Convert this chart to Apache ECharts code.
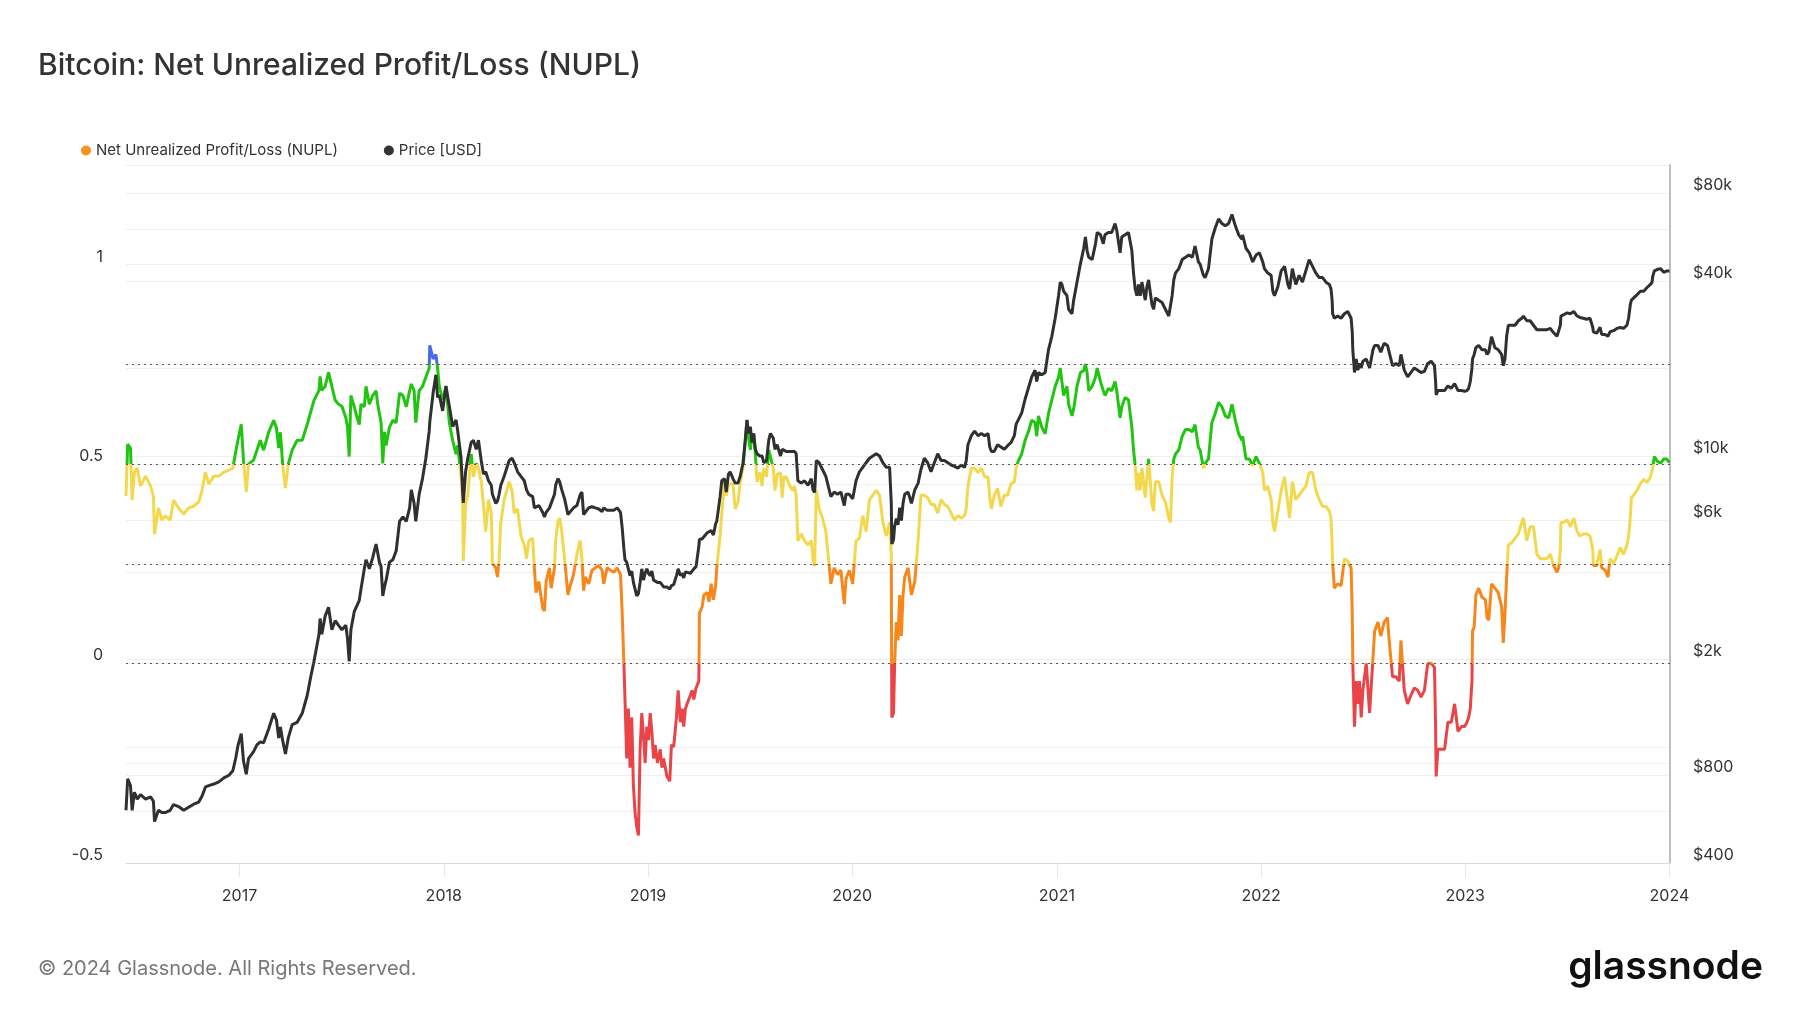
<!DOCTYPE html>
<html>
<head>
<meta charset="utf-8">
<script src="https://cdn.jsdelivr.net/npm/echarts@6/dist/echarts.min.js"></script>
<style>
html,body{margin:0;padding:0;background:#fff;}
#chart{width:1800px;height:1013px;}
</style>
</head>
<body>
<div id="chart"></div>
<script>
// ---------------- data ----------------
const dates = [
'2016-06-12','2016-06-15','2016-06-20','2016-06-23','2016-06-27','2016-07-02','2016-07-08','2016-07-17','2016-07-26','2016-07-31',
'2016-08-02','2016-08-09','2016-08-15','2016-08-21','2016-08-30','2016-09-05','2016-09-14','2016-09-23','2016-10-02','2016-10-11',
'2016-10-20','2016-10-26','2016-11-01','2016-11-07','2016-11-16','2016-11-25','2016-12-04','2016-12-13','2016-12-20','2016-12-25',
'2016-12-29','2017-01-04','2017-01-08','2017-01-13','2017-01-17','2017-01-26','2017-02-01','2017-02-07','2017-02-13','2017-02-22',
'2017-03-03','2017-03-08','2017-03-12','2017-03-15','2017-03-19','2017-03-24','2017-03-29','2017-04-05','2017-04-14','2017-04-23',
'2017-05-02','2017-05-08','2017-05-14','2017-05-23','2017-05-25','2017-05-28','2017-06-03','2017-06-09','2017-06-15','2017-06-21',
'2017-06-27','2017-07-03',
'2017-07-10','2017-07-13','2017-07-16','2017-07-19','2017-07-25','2017-07-28','2017-08-03','2017-08-06','2017-08-12','2017-08-15',
'2017-08-21','2017-08-27','2017-09-02','2017-09-05','2017-09-08','2017-09-11','2017-09-14','2017-09-17','2017-09-20','2017-09-26',
'2017-10-02','2017-10-08','2017-10-14','2017-10-20','2017-10-26','2017-11-01','2017-11-04','2017-11-09','2017-11-12','2017-11-18',
'2017-11-24','2017-11-30','2017-12-06','2017-12-07','2017-12-13','2017-12-18','2017-12-21','2017-12-24','2017-12-30','2018-01-05',
'2018-01-11','2018-01-17','2018-01-23','2018-01-26','2018-02-01','2018-02-04','2018-02-05','2018-02-09','2018-02-13','2018-02-19',
'2018-02-23','2018-02-28','2018-03-04','2018-03-09','2018-03-13','2018-03-17','2018-03-22','2018-03-27','2018-03-29','2018-04-04',
'2018-04-07','2018-04-10','2018-04-13','2018-04-19','2018-04-28','2018-05-03','2018-05-07','2018-05-13','2018-05-19','2018-05-25',
'2018-05-29','2018-06-02','2018-06-09','2018-06-12','2018-06-15','2018-06-20','2018-06-27','2018-06-30','2018-07-03','2018-07-09',
'2018-07-12','2018-07-18','2018-07-20','2018-07-24','2018-07-27','2018-07-31','2018-08-05','2018-08-11','2018-08-14',
'2018-08-15','2018-08-21','2018-08-27','2018-09-02','2018-09-05','2018-09-08','2018-09-11','2018-09-17','2018-09-23','2018-09-29',
'2018-10-05','2018-10-11','2018-10-14','2018-10-20','2018-10-26','2018-11-01','2018-11-07','2018-11-13','2018-11-16','2018-11-19',
'2018-11-21','2018-11-24','2018-11-27','2018-11-30','2018-12-03','2018-12-06','2018-12-09','2018-12-12','2018-12-15','2018-12-18',
'2018-12-21','2018-12-24','2018-12-27','2018-12-30','2019-01-02','2019-01-05','2019-01-08','2019-01-11','2019-01-14','2019-01-18',
'2019-01-23','2019-01-26','2019-01-29','2019-02-04','2019-02-09','2019-02-12','2019-02-16','2019-02-21','2019-02-24','2019-02-28',
'2019-03-03','2019-03-06','2019-03-09','2019-03-12','2019-03-18','2019-03-21','2019-03-24','2019-03-28','2019-04-02','2019-04-03',
'2019-04-08','2019-04-11','2019-04-17','2019-04-20','2019-04-24','2019-04-28','2019-05-02','2019-05-04','2019-05-10','2019-05-13',
'2019-05-18','2019-05-21','2019-05-25','2019-05-28','2019-06-02','2019-06-06','2019-06-11','2019-06-15','2019-06-20','2019-06-24',
'2019-06-27','2019-06-30','2019-07-03','2019-07-06','2019-07-09','2019-07-12','2019-07-15','2019-07-20','2019-07-24','2019-07-27',
'2019-08-01','2019-08-05','2019-08-08','2019-08-13','2019-08-16','2019-08-20','2019-08-26','2019-08-29','2019-09-01','2019-09-05',
'2019-09-10','2019-09-16',
'2019-09-20','2019-09-23','2019-09-26','2019-10-02','2019-10-08','2019-10-14','2019-10-20','2019-10-23','2019-10-26','2019-10-29',
'2019-11-03','2019-11-09','2019-11-15','2019-11-21','2019-11-24','2019-11-30','2019-12-06','2019-12-12','2019-12-18','2019-12-21',
'2019-12-27','2020-01-02','2020-01-08','2020-01-14','2020-01-20','2020-01-26','2020-02-01','2020-02-07','2020-02-13','2020-02-19',
'2020-02-25','2020-03-02','2020-03-08','2020-03-11','2020-03-12','2020-03-15','2020-03-17','2020-03-20','2020-03-23','2020-03-26',
'2020-03-29','2020-04-01','2020-04-04','2020-04-10','2020-04-16','2020-04-22','2020-04-28','2020-05-03','2020-05-09','2020-05-15',
'2020-05-21','2020-05-27','2020-06-02','2020-06-08','2020-06-14','2020-06-20','2020-06-26','2020-07-02','2020-07-08','2020-07-14',
'2020-07-20','2020-07-23','2020-07-26','2020-08-01','2020-08-07','2020-08-13','2020-08-19','2020-08-25','2020-08-31','2020-09-03',
'2020-09-06','2020-09-11','2020-09-17','2020-09-23','2020-09-29','2020-10-05','2020-10-11','2020-10-17','2020-10-20',
'2020-10-24','2020-10-30','2020-11-05','2020-11-11','2020-11-17','2020-11-23','2020-11-26','2020-11-29','2020-12-05','2020-12-11',
'2020-12-17','2020-12-23','2020-12-29','2021-01-04','2021-01-07','2021-01-10','2021-01-13','2021-01-19','2021-01-22','2021-01-28',
'2021-01-31','2021-02-06','2021-02-12','2021-02-18','2021-02-21','2021-02-24','2021-02-27','2021-03-05','2021-03-11','2021-03-14',
'2021-03-20','2021-03-25','2021-03-28','2021-04-03','2021-04-09','2021-04-15','2021-04-18','2021-04-21','2021-04-24','2021-04-27',
'2021-05-03','2021-05-09','2021-05-15','2021-05-18','2021-05-21','2021-05-24','2021-05-27','2021-05-30','2021-06-02','2021-06-08',
'2021-06-11','2021-06-14','2021-06-20','2021-06-23','2021-06-26','2021-07-02','2021-07-08','2021-07-14','2021-07-20','2021-07-23',
'2021-07-26','2021-07-29','2021-08-01','2021-08-07','2021-08-13','2021-08-19','2021-08-25','2021-08-31','2021-09-05','2021-09-11',
'2021-09-14','2021-09-20','2021-09-23','2021-09-29','2021-10-05','2021-10-11','2021-10-17','2021-10-23','2021-10-29','2021-11-04',
'2021-11-10','2021-11-16','2021-11-22','2021-11-28',
'2021-11-29','2021-12-05','2021-12-11','2021-12-17','2021-12-23','2021-12-29','2022-01-04','2022-01-07','2022-01-13','2022-01-19',
'2022-01-22','2022-01-25','2022-01-31','2022-02-06','2022-02-12','2022-02-18','2022-02-21','2022-02-26','2022-03-04','2022-03-10',
'2022-03-16','2022-03-22','2022-03-28','2022-04-03','2022-04-09','2022-04-15','2022-04-21','2022-04-27','2022-05-03','2022-05-06',
'2022-05-08','2022-05-09','2022-05-12','2022-05-18','2022-05-24','2022-05-30','2022-06-05','2022-06-11','2022-06-13','2022-06-14',
'2022-06-17','2022-06-20','2022-06-23','2022-06-26','2022-06-29','2022-07-02','2022-07-08','2022-07-14','2022-07-20','2022-07-23',
'2022-07-29','2022-08-03','2022-08-09','2022-08-15','2022-08-18','2022-08-24','2022-08-30','2022-09-05','2022-09-08','2022-09-14',
'2022-09-20','2022-09-26','2022-10-02','2022-10-08','2022-10-14','2022-10-20','2022-10-26','2022-11-01','2022-11-07','2022-11-09',
'2022-11-10','2022-11-13','2022-11-19','2022-11-25','2022-12-01','2022-12-07','2022-12-13','2022-12-19','2022-12-25','2022-12-31',
'2023-01-04','2023-01-07','2023-01-10','2023-01-13','2023-01-14','2023-01-17','2023-01-20','2023-01-25','2023-01-31','2023-02-06',
'2023-02-09','2023-02-12','2023-02-17','2023-02-23','2023-03-01','2023-03-07','2023-03-10','2023-03-13','2023-03-16','2023-03-19',
'2023-03-25','2023-03-31','2023-04-06','2023-04-12','2023-04-15','2023-04-21','2023-04-27','2023-05-03','2023-05-09','2023-05-15',
'2023-05-21','2023-05-27','2023-06-02','2023-06-08','2023-06-14','2023-06-17','2023-06-20','2023-06-21','2023-06-26','2023-07-02',
'2023-07-08','2023-07-14','2023-07-20','2023-07-25','2023-07-31','2023-08-06','2023-08-12','2023-08-15','2023-08-17','2023-08-18',
'2023-08-24','2023-08-30','2023-09-02','2023-09-08','2023-09-13','2023-09-17','2023-09-23','2023-09-29','2023-10-05','2023-10-11',
'2023-10-17','2023-10-20','2023-10-23','2023-10-25','2023-10-29','2023-11-04','2023-11-10','2023-11-16','2023-11-22','2023-11-28',
'2023-12-01','2023-12-02','2023-12-05','2023-12-10','2023-12-16','2023-12-22','2023-12-27','2024-01-01'
];

const nuplValues = [
0.42,0.55,0.54,0.41,0.48,0.49,0.445,0.47,0.445,0.42,
0.325,0.39,0.36,0.37,0.36,0.41,0.39,0.375,0.39,0.395,
0.405,0.435,0.48,0.45,0.47,0.47,0.48,0.485,0.49,0.53,
0.56,0.60,0.51,0.43,0.50,0.51,0.535,0.56,0.535,0.58,
0.61,0.59,0.54,0.58,0.50,0.44,0.50,0.535,0.56,0.56,
0.60,0.63,0.66,0.685,0.72,0.685,0.695,0.73,0.695,0.66,
0.65,0.645,
0.616,0.593,0.519,0.672,0.644,0.627,0.599,0.650,0.644,0.695,
0.650,0.672,0.684,0.650,0.627,0.604,0.502,0.581,0.547,0.593,
0.610,0.604,0.678,0.672,0.644,0.684,0.701,0.684,0.604,0.684,
0.695,0.718,0.741,0.798,0.764,0.775,0.741,0.695,0.661,0.695,
0.604,0.559,0.525,0.547,0.468,0.399,0.257,0.399,0.422,0.525,
0.468,0.502,0.490,0.456,0.399,0.331,0.411,0.377,0.251,0.240,
0.217,0.263,0.354,0.411,0.456,0.434,0.377,0.388,0.320,0.297,
0.263,0.308,0.314,0.240,0.178,0.206,0.138,0.132,0.206,0.240,
0.189,0.240,0.308,0.354,0.365,0.331,0.263,0.172,0.189,
0.195,0.223,0.274,0.308,0.263,0.183,0.217,0.200,0.234,0.240,
0.246,0.234,0.200,0.240,0.234,0.229,0.240,0.223,0.126,0.001,
-0.090,-0.238,-0.113,-0.261,-0.135,-0.306,-0.374,-0.409,-0.431,-0.215,
-0.124,-0.181,-0.249,-0.158,-0.192,-0.124,-0.170,-0.238,-0.204,-0.249,
-0.215,-0.261,-0.238,-0.283,-0.295,-0.204,-0.209,-0.135,-0.067,-0.147,
-0.113,-0.158,-0.113,-0.101,-0.079,-0.067,-0.090,-0.061,-0.044,0.126,
0.143,0.172,0.178,0.155,0.200,0.160,0.195,0.240,0.320,0.377,
0.455,0.420,0.450,0.445,0.451,0.388,0.405,0.456,0.490,0.559,
0.610,0.564,0.536,0.570,0.576,0.525,0.456,0.479,0.445,0.490,
0.468,0.536,0.519,0.490,0.434,0.474,0.479,0.416,0.468,0.468,
0.451,0.434,
0.445,0.422,0.308,0.325,0.308,0.297,0.308,0.263,0.246,0.434,
0.388,0.365,0.331,0.246,0.200,0.240,0.223,0.234,0.149,0.212,
0.234,0.200,0.308,0.314,0.371,0.331,0.411,0.422,0.434,0.422,
0.354,0.320,0.354,0.274,-0.135,-0.124,0.001,0.104,0.058,0.172,
0.069,0.172,0.217,0.240,0.172,0.206,0.308,0.422,0.422,0.416,
0.399,0.399,0.377,0.411,0.399,0.394,0.377,0.360,0.371,0.365,
0.371,0.388,0.445,0.490,0.490,0.479,0.490,0.468,0.468,0.416,
0.388,0.422,0.439,0.394,0.422,0.422,0.451,0.456,0.490,
0.508,0.525,0.559,0.581,0.610,0.604,0.570,0.621,0.593,0.576,
0.627,0.661,0.695,0.718,0.741,0.707,0.672,0.695,0.650,0.621,
0.638,0.695,0.729,0.735,0.751,0.729,0.684,0.695,0.718,0.741,
0.707,0.684,0.672,0.690,0.684,0.707,0.684,0.650,0.616,0.644,
0.667,0.661,0.593,0.536,0.496,0.434,0.479,0.434,0.490,0.416,
0.468,0.513,0.399,0.382,0.456,0.456,0.422,0.405,0.365,0.354,
0.468,0.513,0.525,0.536,0.570,0.587,0.587,0.581,0.599,0.542,
0.536,0.490,0.502,0.513,0.604,0.627,0.655,0.644,0.621,0.616,
0.650,0.610,0.576,0.559,
0.570,0.513,0.513,0.496,0.519,0.502,0.479,0.434,0.445,0.411,
0.354,0.331,0.382,0.434,0.468,0.399,0.365,0.456,0.411,0.422,
0.434,0.445,0.479,0.479,0.434,0.411,0.394,0.394,0.382,0.365,
0.297,0.251,0.189,0.200,0.195,0.263,0.257,0.240,0.126,0.001,
-0.158,-0.044,-0.101,-0.044,-0.135,-0.067,0.001,-0.124,0.013,0.081,
0.104,0.069,0.104,0.115,0.058,-0.033,-0.033,-0.044,0.058,-0.067,
-0.101,-0.079,-0.061,-0.067,-0.084,-0.067,0.001,0.001,-0.010,-0.158,
-0.283,-0.215,-0.215,-0.215,-0.147,-0.147,-0.101,-0.170,-0.158,-0.158,
-0.147,-0.135,-0.113,-0.044,0.081,0.092,0.172,0.189,0.166,0.160,
0.115,0.109,0.200,0.189,0.178,0.143,0.052,0.126,0.217,0.297,
0.303,0.314,0.325,0.354,0.365,0.308,0.343,0.343,0.274,0.263,
0.263,0.263,0.274,0.246,0.229,0.240,0.286,0.354,0.354,0.360,
0.343,0.365,0.331,0.320,0.325,0.325,0.320,0.320,0.286,0.246,
0.246,0.286,0.240,0.234,0.217,0.263,0.251,0.269,0.291,0.274,
0.297,0.320,0.365,0.416,0.422,0.434,0.451,0.462,0.454,0.468,
0.468,0.490,0.519,0.508,0.502,0.513,0.513,0.504
];

const priceValues = [
607,779,738,607,700,663,687,663,675,652,
555,607,596,596,607,635,625,607,622,637,
648,680,730,738,747,760,784,801,830,914,
1010,1113,897,807,914,965,1018,1043,1036,1154,
1307,1239,1074,1174,1055,948,1074,1195,1217,1307,
1508,1735,1971,2442,2767,2442,2820,3024,2530,2718,
2622,2530,
2622,2356,1971,2530,2920,2920,3195,3490,4099,4402,
4099,4481,4988,4644,4322,4172,3308,3553,3748,4322,
4402,4728,5964,6181,5964,6639,7657,6880,5964,7389,
8368,9830,12181,13080,16495,19030,15921,16210,14303,17413,
14818,12624,13316,12181,9830,7389,6900,8832,9830,11136,
11339,10554,11339,9655,8676,8832,8226,7935,7389,6880,
7000,7389,7935,8521,9655,9830,9488,8832,8521,8226,
7657,7389,7256,6639,6639,6759,6405,6181,6405,6639,
6639,7389,7935,8368,8178,7657,7131,6291,6405,
6405,6639,6759,7389,7523,6291,6405,6639,6700,6639,
6580,6450,6639,6520,6520,6520,6639,6405,5652,4815,
4402,4322,4099,3885,4025,3682,3490,3308,3369,3682,
4099,3748,3956,4099,3956,3885,4025,3748,3720,3682,
3682,3617,3553,3553,3490,3590,3617,3885,4099,3885,
3956,3816,4000,4025,3956,4025,4099,4172,4900,5169,
5200,5264,5454,5510,5552,5357,5858,5964,7256,8226,
8368,7523,8676,8832,8368,8079,8079,8521,9488,11339,
13316,11963,12624,11136,11963,10554,10188,10008,10008,9488,
9655,11339,11963,11545,10554,10940,10008,10554,10554,10375,
10375,10375,
10375,10188,8226,8079,8226,7935,8368,7657,7500,9655,
9488,8993,8521,7657,7256,7523,7389,7523,6759,7389,
7389,7131,8226,8832,9153,9488,9830,10008,10188,10008,
9488,9153,9153,6880,4988,5169,5752,6100,5800,6650,
6000,6880,7389,7523,6880,7657,8079,8993,9830,9488,
8832,9488,10188,9655,9655,9488,9320,9220,9090,9320,
9153,9655,10940,11752,12181,11752,11963,11752,11963,10748,
10375,10375,10940,10748,10554,10860,11136,11752,12845,
13316,14052,15640,17101,18700,19730,18040,19376,19040,19376,
23170,25800,29750,35560,39590,38890,36860,35560,31950,30830,
34330,39590,45670,51760,56570,50830,48170,47310,53600,58610,
57560,53600,57560,58610,58610,62960,59680,54580,49930,56570,
57560,58610,50830,42530,37530,35560,38890,35560,39590,34330,
38190,40280,33110,31950,34930,34330,33710,31950,30280,30280,
35560,40280,42530,44050,47310,48170,49050,48170,52680,46470,
45670,41770,41030,44000,55560,60760,65250,62960,61810,62960,
67610,61810,57560,55560,
57560,51760,49930,46470,49050,49930,46470,44050,42530,41770,
36860,35560,38190,43270,44850,38890,37530,44050,38890,41770,
39590,43270,47310,44850,42530,41030,41030,39590,38890,37530,
34330,30830,29750,30280,29750,30830,31380,29750,26730,23170,
19376,21570,19730,20810,20080,21190,21570,20080,23170,24000,
24000,22760,24430,24000,22760,20440,20810,20440,22350,19730,
18700,19376,20080,19730,19376,19540,20810,21190,20440,18040,
16210,16790,16790,16790,17413,17101,17730,16790,16790,16690,
16790,17101,18040,20080,21570,22350,23570,24000,23170,23170,
22350,22760,25690,23570,23170,22350,20440,21570,25800,28150,
28150,28150,29170,29750,30280,29170,29170,28150,27170,27170,
27170,27170,27460,26520,25800,26170,28150,30280,30600,31050,
30830,31380,30280,29940,29750,29530,29750,29530,27650,26730,
26430,27700,26170,26170,25800,26730,26970,27460,27650,27460,
28150,29750,33110,34330,34930,35810,36860,36860,37940,38890,
39590,41310,43270,43730,44050,42800,43270,43270
];

const yearTicks = ['2017-01-01','2018-01-01','2019-01-01','2020-01-01','2021-01-01','2022-01-01','2023-01-01','2024-01-01'];
const nuplLabelValues = [-0.5, 0, 0.5, 1];
const zoneLevels = [0, 0.25, 0.5, 0.75];
const priceLabelValues = [400, 800, 2000, 6000, 10000, 40000, 80000];
const priceGridValues = [400, 600, 800, 1000, 2000, 4000, 6000, 8000, 10000, 20000, 40000, 60000, 80000];
const xStart = '2016-06-12', xEnd = '2024-01-02';

// ---------------- chart ----------------
function ts(s) { const p = s.split('-'); return Date.UTC(+p[0], +p[1] - 1, +p[2]); }
const n = Math.min(dates.length, nuplValues.length, priceValues.length);
const nuplData = [], priceData = [];
for (let i = 0; i < n; i++) {
  nuplData.push([ts(dates[i]), nuplValues[i]]);
  priceData.push([ts(dates[i]), priceValues[i]]);
}

const FONT = 'Inter, "Noto Sans", "DejaVu Sans", sans-serif';
const RED = '#e94448', ORANGE = '#f7861b', YELLOW = '#f3d84e', GREEN = '#22c412', BLUE = '#4a68ea';
const GRID = '#efefef';

const chart = echarts.init(document.getElementById('chart'), null, { renderer: 'canvas' });
chart.setOption({
  backgroundColor: '#ffffff',
  animation: false,
  textStyle: { fontFamily: FONT },
  title: {
    text: 'Bitcoin: Net Unrealized Profit/Loss (NUPL)',
    left: 38, top: 51, padding: 0,
    textStyle: { fontFamily: FONT, fontSize: 30, fontWeight: 500, color: '#333333' }
  },
  legend: {
    left: 81, top: 143, padding: 0,
    icon: 'circle', itemWidth: 10, itemHeight: 10, itemGap: 46,
    textStyle: { fontFamily: FONT, fontSize: 15, color: '#333333' },
    data: [
      { name: 'Net Unrealized Profit/Loss (NUPL)', itemStyle: { color: '#f7931a' } },
      { name: 'Price [USD]', itemStyle: { color: '#333333' } }
    ]
  },
  grid: { left: 126, right: 130, top: 165, bottom: 150, containLabel: false },
  xAxis: {
    type: 'value',
    min: ts(xStart), max: ts(xEnd),
    axisLine: { show: true, onZero: false, lineStyle: { color: '#d9d9d9', width: 1 } },
    axisTick: { show: true, length: 14, lineStyle: { color: '#e6e6e6' }, customValues: yearTicks.map(ts) },
    splitLine: { show: false },
    axisLabel: {
      customValues: yearTicks.map(ts),
      formatter: v => String(new Date(v).getUTCFullYear()),
      fontFamily: FONT, fontSize: 16, color: '#333333', margin: 25
    }
  },
  yAxis: [
    {
      type: 'value', position: 'left',
      min: -0.5, max: 1.25, interval: 0.25,
      axisLine: { show: false, onZero: false }, axisTick: { show: false },
      splitLine: { show: true, lineStyle: { color: GRID, width: 1 } },
      axisLabel: {
        fontFamily: FONT, fontSize: 16, color: '#333333', margin: 23, verticalAlign: 'bottom',
        formatter: v => {
          const r = Math.round(v * 100) / 100;
          return nuplLabelValues.indexOf(r) >= 0 ? String(r) : '';
        }
      }
    },
    {
      type: 'log', logBase: 10, position: 'right',
      min: 400, max: 100000,
      axisLine: { show: true, onZero: false, lineStyle: { color: '#a8a8a8', width: 1.5 } },
      axisTick: { show: false, customValues: priceGridValues },
      splitLine: { show: true, lineStyle: { color: GRID, width: 1 } },
      axisLabel: {
        customValues: priceLabelValues,
        fontFamily: FONT, fontSize: 16, color: '#333333', margin: 23, verticalAlign: 'bottom',
        formatter: v => v >= 1000 ? '$' + Math.round(v / 1000) + 'k' : '$' + Math.round(v)
      }
    }
  ],
  visualMap: {
    show: false, type: 'piecewise', seriesIndex: 0, dimension: 1,
    pieces: [
      { lt: 0, color: RED },
      { gte: 0, lt: 0.25, color: ORANGE },
      { gte: 0.25, lt: 0.5, color: YELLOW },
      { gte: 0.5, lt: 0.75, color: GREEN },
      { gte: 0.75, color: BLUE }
    ]
  },
  series: [
    {
      name: 'Net Unrealized Profit/Loss (NUPL)', type: 'line', yAxisIndex: 0,
      data: nuplData, showSymbol: false, symbol: 'none', z: 3,
      itemStyle: { color: '#f7931a' },
      lineStyle: { width: 3 }
    },
    {
      name: 'Price [USD]', type: 'line', yAxisIndex: 1,
      data: priceData, showSymbol: false, symbol: 'none', z: 4,
      itemStyle: { color: '#333333' },
      lineStyle: { width: 3, color: '#303030' }
    },
    {
      name: 'zones', type: 'line', yAxisIndex: 0, data: [], z: 2, silent: true,
      markLine: {
        silent: true, symbol: 'none', label: { show: false },
        lineStyle: { type: [2, 4], color: '#555555', width: 1 },
        data: zoneLevels.map(v => ({ yAxis: v }))
      }
    }
  ],
  graphic: [
    {
      type: 'text', x: 38, y: 969,
      style: { text: '© 2024 Glassnode. All Rights Reserved.', fontFamily: FONT, fontSize: 20, fill: '#777777', verticalAlign: 'middle', align: 'left' }
    },
    {
      type: 'text', x: 1763, y: 967,
      style: { text: 'glassnode', fontFamily: FONT, fontSize: 39, fontWeight: 600, fill: '#111111', verticalAlign: 'middle', align: 'right' }
    }
  ]
});
</script>
</body>
</html>
